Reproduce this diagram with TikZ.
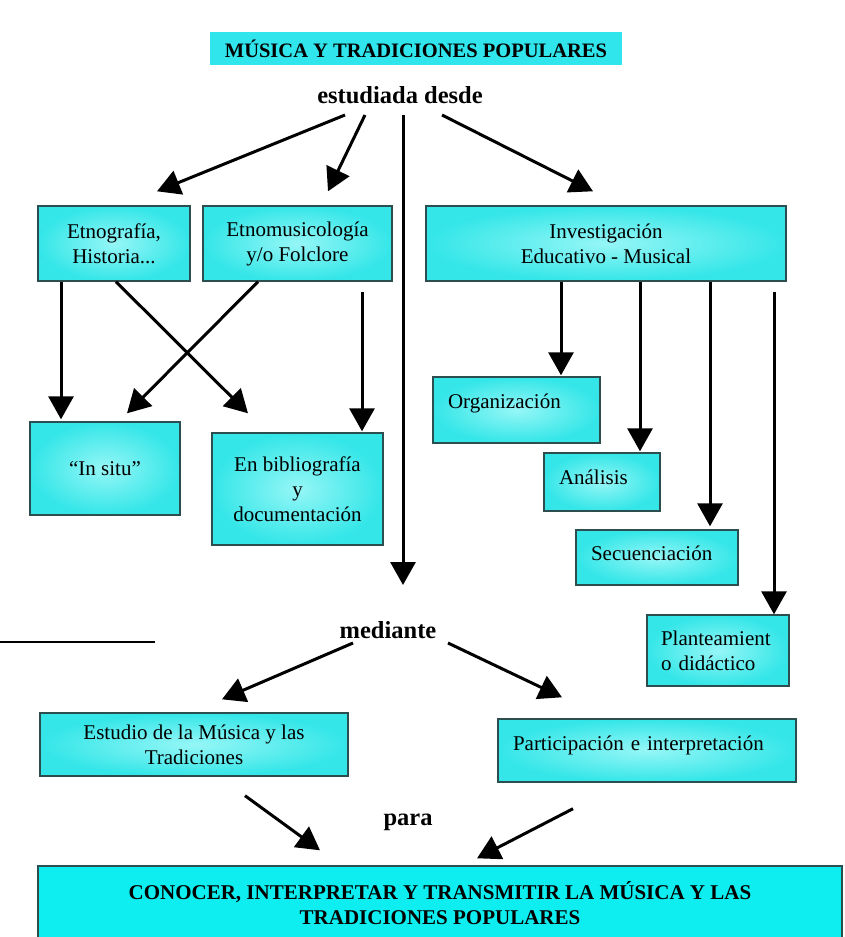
\documentclass[tikz,border=0pt]{standalone}
\usepackage{fontspec}
\setmainfont{Liberation Serif}
\usepackage[dvipsnames]{xcolor}
\usetikzlibrary{arrows.meta,positioning}

\definecolor{boxcyan}{RGB}{52,230,232}
\definecolor{boxlight}{RGB}{150,246,246}
\definecolor{boxline}{RGB}{45,78,78}
\definecolor{bandcyan}{RGB}{48,230,236}
\definecolor{endcyan}{RGB}{14,238,240}

\begin{document}
\begin{tikzpicture}[
    x=1pt, y=1pt,
    mybox/.style={draw=boxline, line width=1.4pt, inner color=boxlight, outer color=boxcyan,
        align=center, font=\fontsize{21}{25}\selectfont, inner sep=0pt},
    leftbox/.style={mybox, align=left, inner xsep=15pt},
    endbox/.style={draw=boxline, line width=1.4pt, fill=endcyan, align=center,
        font=\fontsize{21}{25}\selectfont\bfseries, inner sep=0pt},
    mylabel/.style={font=\fontsize{24.5}{28}\selectfont\bfseries, inner sep=0pt},
    myarrow/.style={-{Triangle[width=25pt,length=23pt]}, line width=3pt}
]
\useasboundingbox (0,0) rectangle (845,-937);
\clip (0,0) rectangle (845,-937);

% heading
\node[fill=bandcyan, minimum width=412pt, minimum height=33pt, inner sep=0pt,
      font=\fontsize{20.5}{24}\selectfont\bfseries] (title) at (416,-48.5) {MÚSICA Y TRADICIONES POPULARES};
\node[mylabel] (desde) at (400,-95) {estudiada desde};

% first row
\node[mybox, minimum width=152pt, minimum height=75pt] (etno) at (114,-243.5) {Etnografía,\\Historia...};
\node[mybox, minimum width=189pt, minimum height=75pt] (emus) at (297.5,-243.5) {Etnomusicología\\y/o Folclore};
\node[mybox, minimum width=360pt, minimum height=75pt] (inv) at (606,-243.5) {Investigación\\Educativo - Musical};

% second row
\node[mybox, minimum width=150pt, minimum height=93pt] (situ) at (105,-468.5) {“In situ”};
\node[mybox, minimum width=171pt, minimum height=112pt] (biblio) at (297.5,-489) {En bibliografía\\y\\documentación};
\node[leftbox, text width=137pt, minimum height=66pt, text depth=17pt] (org) at (516.5,-410) {Organización};
\node[leftbox, text width=86pt, minimum height=58pt, text depth=10pt] (anal) at (602,-482) {Análisis};
\node[leftbox, text width=132pt, minimum height=55pt, text depth=8pt] (secu) at (657,-557.5) {Secuenciación};
\node[leftbox, text width=114pt, minimum height=71pt, inner xsep=14pt] (plan) at (718,-650.5) {Planteamient\\o didáctico};

% mediante
\node[mylabel] (mediante) at (388,-630) {mediante};
\node[mybox, minimum width=308pt, minimum height=63pt] (estu) at (194,-744.5) {Estudio de la Música y las\\Tradiciones};
\node[leftbox, text width=268pt, minimum height=63pt, text depth=15pt] (part) at (647,-750.5) {Participación e interpretación};

% para
\node[mylabel] (para) at (408,-822) {para};
\node[endbox, minimum width=804pt, minimum height=74pt] (fin) at (440,-903)
    {CONOCER, INTERPRETAR Y TRANSMITIR LA MÚSICA Y LAS\\TRADICIONES POPULARES};

% footnote rule of the page
\draw[line width=1.2pt] (0,-642) -- (155,-642);

\draw[myarrow] ([shift={(-55,-20)}]desde.center) -- ([shift={(43,14)}]etno.north);
\draw[myarrow] ([shift={(-35,-20)}]desde.center) -- ([shift={(30.5,14)}]emus.north);
\draw[myarrow] ([shift={(3,-20)}]desde.center) -- ([shift={(15,45)}]mediante.center);
\draw[myarrow] ([shift={(42,-20)}]desde.center) -- ([shift={(-13,14)}]inv.north);

\draw[myarrow] ([shift={(-53,0)}]etno.south) -- ([shift={(-44,2)}]situ.north);
\draw[myarrow] ([shift={(2,0)}]etno.south) -- ([shift={(-49.5,19)}]biblio.north);
\draw[myarrow] ([shift={(-39.5,0)}]emus.south) -- ([shift={(22,8)}]situ.north);
\draw[myarrow] ([shift={(64.5,-10)}]emus.south) -- ([shift={(64.5,1)}]biblio.north);

\draw[myarrow] ([shift={(-45,0)}]inv.south) -- ([shift={(44.5,1)}]org.north);
\draw[myarrow] ([shift={(34,0)}]inv.south) -- ([shift={(38,1)}]anal.north);
\draw[myarrow] ([shift={(104,0)}]inv.south) -- ([shift={(53,3)}]secu.north);
\draw[myarrow] ([shift={(168,-10)}]inv.south) -- ([shift={(56,0)}]plan.north);

\draw[myarrow] ([shift={(-35,-13)}]mediante.center) -- ([shift={(28,13)}]estu.north);
\draw[myarrow] ([shift={(60,-13)}]mediante.center) -- ([shift={(-85,21)}]part.north);

\draw[myarrow] ([shift={(51,-19)}]estu.south) -- ([shift={(-120,15)}]fin.north);
\draw[myarrow] ([shift={(-74,-26)}]part.south) -- ([shift={(37,7)}]fin.north);
\end{tikzpicture}
\end{document}
